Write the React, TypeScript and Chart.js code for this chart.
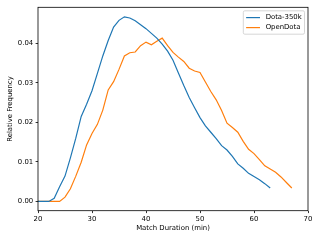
import { useEffect, useRef } from "react";
import { Chart, registerables } from "chart.js";

Chart.register(...registerables);

const minutes = [
  20, 21, 22, 23, 24, 25, 26, 27, 28, 29, 30, 31, 32, 33, 34, 35, 36, 37, 38, 39,
  40, 41, 42, 43, 44, 45, 46, 47, 48, 49, 50, 51, 52, 53, 54, 55, 56, 57, 58, 59,
  60, 61, 62, 63, 64, 65, 66, 67,
];

const dota350k = [
  0, 0, 0, 0.0008, 0.0037, 0.0064, 0.011, 0.016, 0.0215, 0.0246,
  0.028, 0.0324, 0.0368, 0.0407, 0.0441, 0.0458, 0.0467, 0.0464, 0.0457, 0.0447,
  0.0437, 0.0425, 0.0413, 0.0398, 0.038, 0.0357, 0.0325, 0.0293, 0.0263, 0.0237,
  0.0212, 0.0191, 0.0175, 0.0159, 0.0141, 0.013, 0.0114, 0.0095, 0.0084, 0.0071,
  0.0063, 0.0055, 0.0045, 0.0034,
];

const openDota = [
  0, 0, 0, 0, 0, 0.0011, 0.0032, 0.0064, 0.0099, 0.0143,
  0.0172, 0.0195, 0.0231, 0.0282, 0.0303, 0.0334, 0.0368, 0.0376, 0.0378, 0.0394,
  0.0403, 0.0396, 0.0405, 0.0413, 0.0394, 0.0377, 0.0365, 0.0354, 0.0337, 0.033,
  0.0326, 0.0302, 0.0278, 0.0257, 0.023, 0.0198, 0.0187, 0.0175, 0.0152, 0.0132,
  0.0121, 0.0106, 0.009, 0.0082, 0.0074, 0.0062, 0.0048, 0.0034,
];

const seriesNames = ["Dota-350k", "OpenDota"];
const seriesColors = ["#1f77b4", "#ff7f0e"];
const xTicks = [20, 30, 40, 50, 60, 70];
const yTicks = [0, 0.01, 0.02, 0.03, 0.04];
const xTitle = "Match Duration (min)";
const yTitle = "Relative Frequency";

const FONT = "DejaVu Sans";
const FS = 6.9;

const framePlugin = {
  id: "frameAndLegend",
  afterDraw(chart: any) {
    const { ctx, chartArea } = chart;
    const { left, top, right, bottom } = chartArea;
    ctx.save();
    ctx.strokeStyle = "#000";
    ctx.lineWidth = 0.8;
    ctx.strokeRect(left, top, right - left, bottom - top);

    // legend (matplotlib-like, upper right)
    ctx.font = `${FS}px "${FONT}"`;
    const datasets = chart.data.datasets;
    let maxW = 0;
    datasets.forEach((d: any) => {
      maxW = Math.max(maxW, ctx.measureText(d.label).width);
    });
    const pad = 2.8;
    const handle = 13.9;
    const gap = 5.6;
    const rowH = 10;
    const boxW = pad + handle + gap + maxW + pad;
    const boxH = 23.4;
    const bx = right - 3.5 - boxW;
    const by = top + 3.5;
    const r = 1.5;
    ctx.beginPath();
    ctx.moveTo(bx + r, by);
    ctx.lineTo(bx + boxW - r, by);
    ctx.arcTo(bx + boxW, by, bx + boxW, by + r, r);
    ctx.lineTo(bx + boxW, by + boxH - r);
    ctx.arcTo(bx + boxW, by + boxH, bx + boxW - r, by + boxH, r);
    ctx.lineTo(bx + r, by + boxH);
    ctx.arcTo(bx, by + boxH, bx, by + boxH - r, r);
    ctx.lineTo(bx, by + r);
    ctx.arcTo(bx, by, bx + r, by, r);
    ctx.closePath();
    ctx.fillStyle = "rgba(255,255,255,0.8)";
    ctx.fill();
    ctx.strokeStyle = "#cccccc";
    ctx.lineWidth = 0.8;
    ctx.stroke();

    datasets.forEach((d: any, i: number) => {
      const cy = by + 6.8 + i * rowH;
      ctx.strokeStyle = d.borderColor;
      ctx.lineWidth = 1.2;
      ctx.beginPath();
      ctx.moveTo(bx + pad, cy);
      ctx.lineTo(bx + pad + handle, cy);
      ctx.stroke();
      ctx.fillStyle = "#000";
      ctx.textAlign = "left";
      ctx.textBaseline = "middle";
      ctx.fillText(d.label, bx + pad + handle + gap, cy);
    });
    ctx.restore();
  },
};

export default function App() {
  const canvasRef = useRef<HTMLCanvasElement | null>(null);

  useEffect(() => {
    const canvas = canvasRef.current;
    if (!canvas) return;
    const seriesValues = [dota350k, openDota];
    const chart = new Chart(canvas, {
      type: "line",
      data: {
        datasets: seriesValues.map((vals, i) => ({
          label: seriesNames[i],
          data: vals.map((v, j) => ({ x: minutes[j], y: v })),
          borderColor: seriesColors[i],
          backgroundColor: seriesColors[i],
          borderWidth: 1.2,
          pointRadius: 0,
          tension: 0,
          fill: false,
        })),
      },
      options: {
        responsive: false,
        animation: false,
        events: [],
        layout: { padding: { top: 7.3, right: 13, left: 0, bottom: 0 } },
        plugins: {
          legend: { display: false },
          tooltip: { enabled: false },
        },
        scales: {
          x: {
            type: "linear",
            min: 20,
            max: 70,
            afterBuildTicks: (s: any) => {
              s.ticks = xTicks.map((v) => ({ value: v }));
            },
            afterFit: (s: any) => {
              s.height = 30.3;
            },
            grid: {
              display: true,
              drawOnChartArea: false,
              drawTicks: true,
              tickLength: 2.4,
              tickWidth: 0.8,
              tickColor: "#000",
            },
            border: { display: false },
            ticks: {
              color: "#000",
              font: { family: FONT, size: FS },
              padding: 2,
              maxRotation: 0,
              autoSkip: false,
              callback: (v: any) => String(v),
            },
            title: {
              display: true,
              text: xTitle,
              color: "#000",
              font: { family: FONT, size: FS },
              padding: { top: 0, bottom: 8.3 },
            },
          },
          y: {
            type: "linear",
            min: -0.00234,
            max: 0.0491,
            afterBuildTicks: (s: any) => {
              s.ticks = yTicks.map((v) => ({ value: v }));
            },
            afterFit: (s: any) => {
              s.width = 38;
            },
            grid: {
              display: true,
              drawOnChartArea: false,
              drawTicks: true,
              tickLength: 2.4,
              tickWidth: 0.8,
              tickColor: "#000",
            },
            border: { display: false },
            ticks: {
              color: "#000",
              font: { family: FONT, size: FS },
              padding: 2.4,
              autoSkip: false,
              callback: (v: any) => Number(v).toFixed(2),
            },
            title: {
              display: true,
              text: yTitle,
              color: "#000",
              font: { family: FONT, size: FS },
              padding: { top: 6.4, bottom: 0 },
            },
          },
        },
      },
      plugins: [framePlugin],
    } as any);
    return () => chart.destroy();
  }, []);

  return (
    <div style={{ position: "fixed", left: 0, top: 0, width: 321, height: 241, background: "#fff" }}>
      <canvas ref={canvasRef} width={321} height={241} style={{ width: 321, height: 241, display: "block" }} />
    </div>
  );
}
